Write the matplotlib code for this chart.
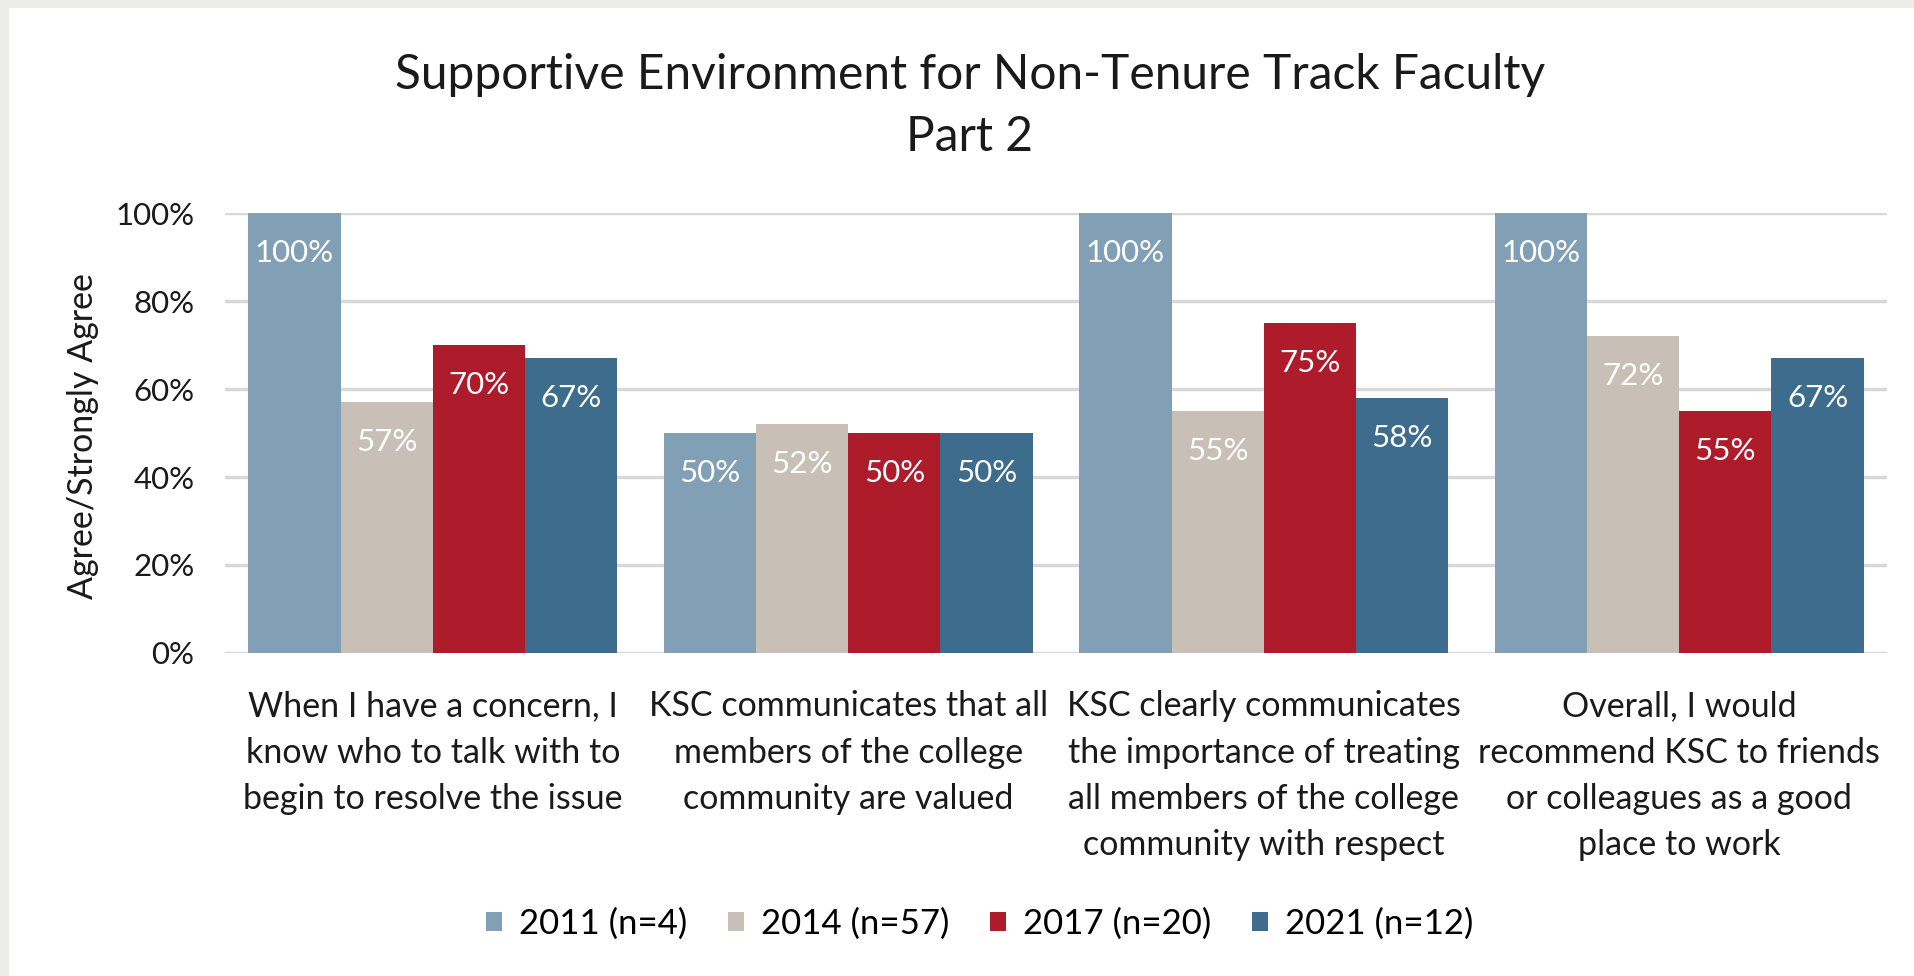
import numpy as np
import matplotlib
matplotlib.use('Agg')
import matplotlib.pyplot as plt
from matplotlib.patches import Patch, Rectangle

plt.rcParams['font.family'] = ['Lato', 'DejaVu Sans']

# data
categories = [
    'When I have a concern, I\nknow who to talk with to\nbegin to resolve the issue',
    'KSC communicates that all\nmembers of the college\ncommunity are valued',
    'KSC clearly communicates\nthe importance of treating\nall members of the college\ncommunity with respect',
    'Overall, I would\nrecommend KSC to friends\nor colleagues as a good\nplace to work',
]
series_names = ['2011 (n=4)', '2014 (n=57)', '2017 (n=20)', '2021 (n=12)']
vals_2011 = [100, 50, 100, 100]
vals_2014 = [57, 52, 55, 72]
vals_2017 = [70, 50, 75, 55]
vals_2021 = [67, 50, 58, 67]
colors = ['#819FB5', '#C8BFB6', '#AE1C2C', '#3D6C8C']

series = [vals_2011, vals_2014, vals_2017, vals_2021]

fig = plt.figure(figsize=(19.14, 9.76), dpi=100, facecolor='white')
W, H = 1914, 976

# grey frame strips (left and top)
fig.patches.append(Rectangle((0, 0), 9 / W, 1, transform=fig.transFigure,
                             facecolor='#ECEDE9', edgecolor='none', zorder=0))
fig.patches.append(Rectangle((0, 1 - 8 / H), 1, 8 / H, transform=fig.transFigure,
                             facecolor='#ECEDE9', edgecolor='none', zorder=0))

ax = fig.add_axes([225 / W, 1 - 653 / H, (1887 - 225) / W, (653 - 213) / H])

x = np.arange(len(categories))
bw = 0.222
for i, (vals, c, name) in enumerate(zip(series, colors, series_names)):
    pos = x + (i - 1.5) * bw
    ax.bar(pos, vals, bw, color=c, label=name, zorder=3)
    for px, v in zip(pos, vals):
        ax.annotate(f'{v}%', xy=(px, v), xytext=(0, -29), textcoords='offset points',
                    ha='center', va='center', color='white', fontsize=22.5, zorder=4)

ax.set_xlim(-0.5, 3.5)
ax.set_ylim(0, 100)
ax.set_yticks(np.arange(0, 101, 20))
ax.set_yticklabels([f'{t}%' for t in range(0, 101, 20)])
ax.yaxis.grid(True, color='#D9D9D9', linewidth=2.5, zorder=0)
ax.set_axisbelow(True)
for s in ax.spines.values():
    s.set_visible(False)
ax.tick_params(axis='y', length=0, pad=22, labelsize=22.5, labelcolor='#1a1a1a')
ax.tick_params(axis='x', length=0, pad=27, labelsize=24.5, labelcolor='#1a1a1a')
ax.set_xticks(x)
ax.set_xticklabels(categories, linespacing=1.54)

fig.text(83 / W, 1 - 436 / H, 'Agree/Strongly Agree', rotation=90,
         ha='center', va='center', fontsize=24.5, color='#1a1a1a')

fig.text(970 / W, 1 - 106 / H, 'Supportive Environment for Non-Tenure Track Faculty\nPart 2',
         ha='center', va='center', fontsize=34.5, linespacing=1.48, color='#1a1a1a')

handles = [Patch(facecolor=c, edgecolor='none') for c in colors]
fig.legend(handles, series_names, loc='center', bbox_to_anchor=(980 / W, 1 - 924 / H),
           ncol=4, frameon=False, fontsize=25, handlelength=0.45, handleheight=0.45,
           handletextpad=0.5, columnspacing=1.17)

plt.savefig('out.png', dpi=100, facecolor=fig.get_facecolor())
